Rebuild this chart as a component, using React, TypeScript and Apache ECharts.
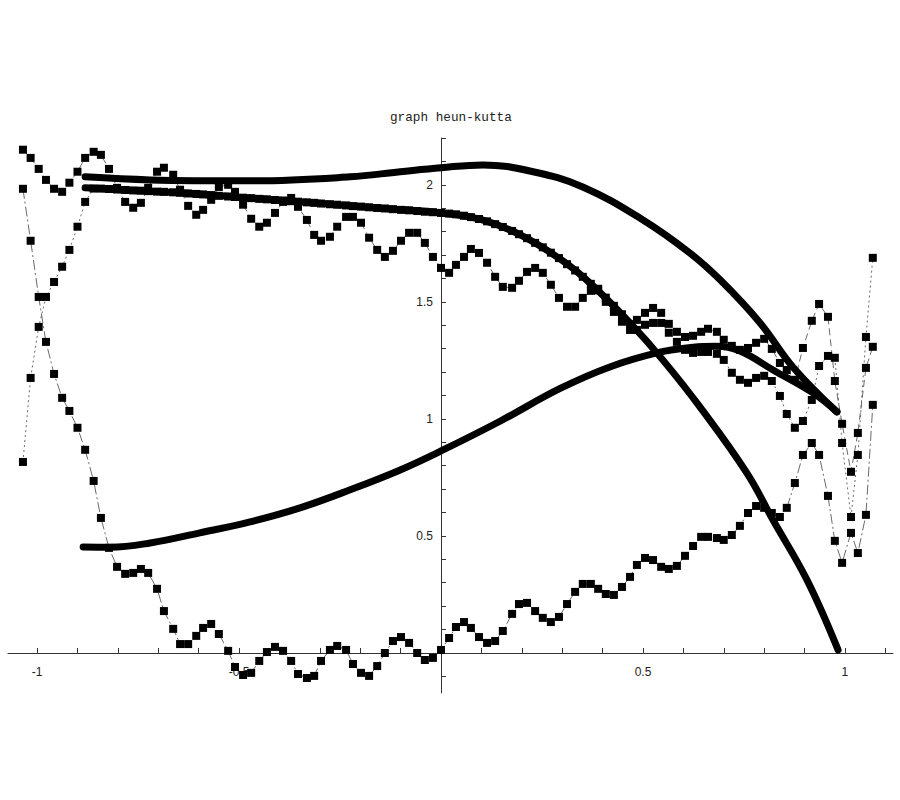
import React, { useEffect, useRef } from "react";
import * as echarts from "echarts";

// shared sampling positions of the marker series (x)
const xs = [
  -1.035, -1.016, -0.996, -0.978, -0.958, -0.938, -0.92, -0.9, -0.881, -0.86,
  -0.842, -0.822, -0.802, -0.782, -0.762, -0.743, -0.725, -0.703, -0.686, -0.663,
  -0.646, -0.626, -0.606, -0.589, -0.569, -0.55, -0.527, -0.51, -0.49, -0.47,
  -0.45, -0.431, -0.411, -0.391, -0.371, -0.354, -0.332, -0.314, -0.297, -0.275,
  -0.257, -0.235, -0.218, -0.198, -0.178, -0.158, -0.139, -0.119, -0.099, -0.079,
  -0.059, -0.04, -0.02, 0.0, 0.02, 0.037, 0.057, 0.074, 0.094, 0.114,
  0.134, 0.153, 0.176, 0.193, 0.213, 0.233, 0.252, 0.272, 0.292, 0.312,
  0.332, 0.351, 0.371, 0.389, 0.408, 0.428, 0.448, 0.468, 0.485, 0.505,
  0.525, 0.545, 0.564, 0.584, 0.604, 0.624, 0.644, 0.661, 0.683, 0.7,
  0.72, 0.74, 0.76, 0.78, 0.8, 0.819, 0.839, 0.856, 0.876, 0.896,
  0.918, 0.936, 0.958, 0.975, 0.993, 1.015, 1.032, 1.052, 1.069,
];

const seriesD = [
  2.15, 2.115, 2.068, 2.021, 1.983, 1.97, 2.009, 2.056, 2.115, 2.141,
  2.128, 2.068, 1.987, 1.927, 1.902, 1.923, 1.987, 2.056, 2.073, 2.043,
  1.979, 1.91, 1.872, 1.893, 1.936, 1.991, 2.0, 1.97, 1.915, 1.855,
  1.821, 1.838, 1.88, 1.927, 1.944, 1.906, 1.85, 1.786, 1.761, 1.778,
  1.821, 1.863, 1.863, 1.838, 1.774, 1.722, 1.692, 1.718, 1.761, 1.795,
  1.795, 1.752, 1.692, 1.645, 1.624, 1.658, 1.692, 1.726, 1.709, 1.667,
  1.607, 1.564, 1.56, 1.59, 1.628, 1.645, 1.624, 1.573, 1.517, 1.479,
  1.479, 1.517, 1.547, 1.556, 1.5, 1.457, 1.415, 1.38, 1.423, 1.453,
  1.474, 1.453, 1.406, 1.372, 1.35, 1.355, 1.372, 1.385, 1.372, 1.338,
  1.312, 1.295, 1.303, 1.325, 1.342, 1.299, 1.239, 1.209, 1.167, 1.303,
  1.419, 1.491, 1.436, 1.162, 0.979, 0.774, 0.94, 1.218, 1.308,
];

const seriesE = [
  1.983, 1.761, 1.521, 1.329, 1.192, 1.09, 1.034, 0.962, 0.868, 0.735,
  0.577, 0.449, 0.368, 0.338, 0.342, 0.359, 0.342, 0.274, 0.179, 0.103,
  0.038, 0.038, 0.073, 0.107, 0.124, 0.081, 0.009, -0.06, -0.094, -0.085,
  -0.034, 0.004, 0.026, 0.009, -0.034, -0.09, -0.107, -0.098, -0.034, 0.013,
  0.03, 0.013, -0.047, -0.085, -0.098, -0.056, 0.0, 0.051, 0.068, 0.043,
  0.0, -0.03, -0.021, 0.013, 0.064, 0.111, 0.132, 0.107, 0.068, 0.043,
  0.051, 0.094, 0.167, 0.209, 0.214, 0.179, 0.15, 0.132, 0.154, 0.209,
  0.261, 0.295, 0.295, 0.274, 0.252, 0.248, 0.282, 0.325, 0.376, 0.406,
  0.397, 0.368, 0.359, 0.372, 0.415, 0.457, 0.496, 0.496, 0.491, 0.483,
  0.504, 0.543, 0.598, 0.628, 0.62, 0.598, 0.581, 0.62, 0.726, 0.846,
  0.897, 0.846, 0.671, 0.479, 0.385, 0.513, 0.427, 0.59, 1.06,
];

// third numerical solution: it runs under the thick curve B for most of the range
const seriesF = [
  0.816, 1.175, 1.393, 1.521, 1.585, 1.65, 1.722, 1.821, 1.927, 1.984,
  1.984, 1.982, 1.98, 1.978, 1.976, 1.975, 1.973, 1.971, 1.97, 1.968,
  1.966, 1.963, 1.961, 1.959, 1.956, 1.953, 1.95, 1.948, 1.945, 1.943,
  1.94, 1.938, 1.935, 1.933, 1.93, 1.928, 1.925, 1.923, 1.92, 1.917,
  1.915, 1.912, 1.909, 1.907, 1.904, 1.901, 1.899, 1.896, 1.893, 1.891,
  1.888, 1.885, 1.883, 1.88, 1.877, 1.874, 1.868, 1.862, 1.854, 1.844,
  1.832, 1.82, 1.803, 1.789, 1.772, 1.752, 1.733, 1.71, 1.687, 1.661,
  1.634, 1.607, 1.577, 1.549, 1.518, 1.483, 1.447, 1.405, 1.38, 1.402,
  1.41, 1.41, 1.368, 1.329, 1.295, 1.282, 1.286, 1.286, 1.278, 1.252,
  1.197, 1.167, 1.154, 1.175, 1.184, 1.162, 1.098, 1.021, 0.962, 0.991,
  1.081, 1.226, 1.269, 1.261, 0.897, 0.581, 0.846, 1.35, 1.688,
];

// thick reference curves
const curveAX = [-0.881, -0.72, -0.473, -0.225, -0.101, 0.0, 0.104, 0.228, 0.351, 0.5, 0.616, 0.691, 0.79, 0.871, 0.98];
const curveAY = [2.034, 2.021, 2.017, 2.034, 2.056, 2.073, 2.085, 2.056, 1.991, 1.85, 1.709, 1.594, 1.41, 1.222, 1.03];

const curveBX = [-0.881, -0.75, -0.646, -0.5, -0.317, -0.15, 0.0, 0.1, 0.2, 0.3, 0.369, 0.468, 0.55, 0.641, 0.757, 0.822, 0.906, 0.983];
const curveBY = [1.987, 1.975, 1.966, 1.947, 1.923, 1.9, 1.88, 1.851, 1.783, 1.677, 1.58, 1.41, 1.25, 1.051, 0.769, 0.568, 0.312, 0.013];

const curveCX = [-0.886, -0.819, -0.72, -0.597, -0.473, -0.349, -0.225, -0.101, 0.0, 0.146, 0.295, 0.418, 0.542, 0.624, 0.68, 0.74, 0.822, 0.921, 0.98];
const curveCY = [0.453, 0.452, 0.47, 0.513, 0.56, 0.62, 0.697, 0.782, 0.863, 0.99, 1.13, 1.222, 1.285, 1.306, 1.31, 1.29, 1.209, 1.111, 1.03];

// ticks and labels
const xTicks = [-1, -0.9, -0.8, -0.7, -0.6, -0.5, -0.4, -0.3, -0.2, -0.1, 0, 0.1, 0.2, 0.3, 0.4, 0.5, 0.6, 0.7, 0.8, 0.9, 1, 1.1];
const xLabels = [-1, -0.5, 0.5, 1];
const yTicks = [-0.1, 0, 0.1, 0.2, 0.3, 0.4, 0.5, 0.6, 0.7, 0.8, 0.9, 1, 1.1, 1.2, 1.3, 1.4, 1.5, 1.6, 1.7, 1.8, 1.9, 2, 2.1, 2.2];
const yLabels = [0.5, 1, 1.5, 2];
const titleText = "graph heun-kutta";

const X_MIN = -1.072;
const X_MAX = 1.119;
const Y_MIN = -0.171;
const Y_MAX = 2.2;

export default function App() {
  const ref = useRef<HTMLDivElement>(null);

  useEffect(() => {
    if (!ref.current) return;
    const chart = echarts.init(ref.current, null, { renderer: "svg" });

    const pairs = (ax: number[], ay: number[]) => ax.map((x, i) => [x, ay[i]]);

    const markerSeries = (name: string, ys: number[], dash: number[]) => ({
      name,
      type: "line",
      data: pairs(xs, ys),
      symbol: "rect",
      symbolSize: 8,
      showSymbol: true,
      itemStyle: { color: "#000" },
      lineStyle: { color: "#444", width: 0.8, type: dash },
      z: 2,
    });

    const curveSeries = (name: string, ax: number[], ay: number[]) => ({
      name,
      type: "line",
      data: pairs(ax, ay),
      smooth: 0.4,
      symbol: "none",
      lineStyle: { color: "#000", width: 7, cap: "round" },
      z: 3,
    });

    const axisColor = "#333";
    const gridLeft = 8;
    const gridRight = 7;
    const gridTop = 138;
    const gridBottom = 107;
    const plotW = 900 - gridLeft - gridRight;
    const plotH = 800 - gridTop - gridBottom;
    // move the axes onto the zero lines (axes are drawn through the origin)
    const yAxisOffset = -((0 - X_MIN) / (X_MAX - X_MIN)) * plotW;
    const xAxisOffset = -((0 - Y_MIN) / (Y_MAX - Y_MIN)) * plotH;

    chart.setOption({
      animation: false,
      backgroundColor: "#fff",
      grid: { left: gridLeft, right: gridRight, top: gridTop, bottom: gridBottom, containLabel: false, outerBoundsMode: "none" },
      graphic: [
        {
          type: "text",
          x: 390,
          y: 111,
          style: {
            text: titleText,
            fontFamily: "Liberation Mono",
            fontSize: 12.7,
            fill: "#222",
            textVerticalAlign: "top",
          },
        },
      ],
      xAxis: {
        type: "value",
        min: X_MIN,
        max: X_MAX,
        offset: xAxisOffset,
        axisLine: { onZero: false, lineStyle: { color: axisColor, width: 1 } },
        axisTick: { show: true, inside: true, length: 5, customValues: xTicks, lineStyle: { color: axisColor } },
        axisLabel: {
          customValues: xLabels,
          formatter: (v: number) => String(v),
          margin: 13,
          fontSize: 12,
          fontFamily: "Liberation Sans",
          color: "#222",
        },
        splitLine: { show: false },
      },
      yAxis: {
        type: "value",
        min: Y_MIN,
        max: Y_MAX,
        offset: yAxisOffset,
        axisLine: { onZero: false, lineStyle: { color: axisColor, width: 1 } },
        axisTick: { show: true, inside: true, length: 5, customValues: yTicks, lineStyle: { color: axisColor } },
        axisLabel: {
          customValues: yLabels,
          formatter: (v: number) => String(v),
          margin: 8,
          fontSize: 12,
          fontFamily: "Liberation Sans",
          color: "#222",
        },
        splitLine: { show: false },
      },
      series: [
        markerSeries("D", seriesD, [7, 4]),
        markerSeries("E", seriesE, [10, 3, 2, 3]),
        markerSeries("F", seriesF, [2, 3]),
        curveSeries("A", curveAX, curveAY),
        curveSeries("B", curveBX, curveBY),
        curveSeries("C", curveCX, curveCY),
      ],
    });

    return () => chart.dispose();
  }, []);

  return (
    <div
      ref={ref}
      style={{ position: "absolute", left: 0, top: 0, width: 900, height: 800, background: "#fff" }}
    />
  );
}
